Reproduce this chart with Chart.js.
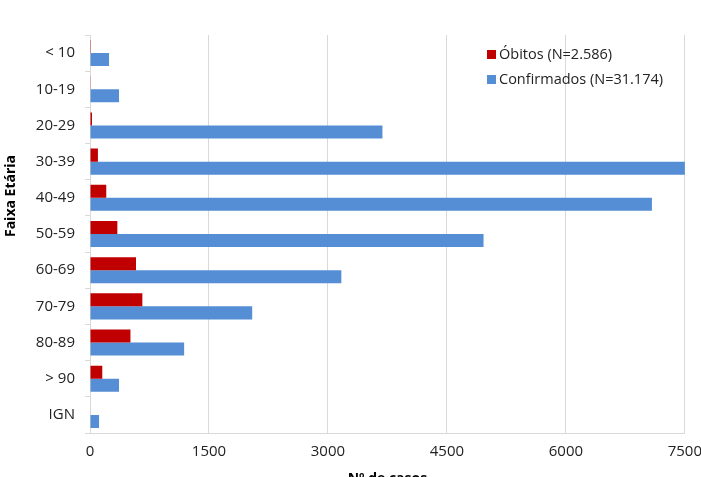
<!DOCTYPE html>
<html>
<head>
<meta charset="utf-8">
<script src="https://cdn.jsdelivr.net/npm/chart.js@4.4.1/dist/chart.umd.min.js"></script>
<style>
  html, body { margin: 0; padding: 0; background: #fff; overflow: hidden; }
  #wrap { position: relative; width: 712px; height: 487px; }
</style>
</head>
<body>
<div id="wrap"><canvas id="grafico"></canvas></div>
<script>
const faixas = ['< 10', '10-19', '20-29', '30-39', '40-49', '50-59', '60-69', '70-79', '80-89', '> 90', 'IGN'];
const obitos = [2, 4, 25, 100, 205, 345, 580, 660, 510, 155, 0];
const confirmados = [240, 366, 3687, 7950, 7085, 4962, 3169, 2045, 1187, 366, 114];
const ticksX = [0, 1500, 3000, 4500, 6000, 7500];

const fonte = "'Open Sans', sans-serif";
const cores = ['#C00000', '#558ED5'];

// legenda dentro da area do grafico + titulo do eixo Y
const extras = {
    id: 'extras',
    afterDraw(chart) {
        const c = chart.ctx;
        c.save();
        c.font = '14.5px ' + fonte;
        c.textBaseline = 'middle';
        chart.data.datasets.forEach((ds, i) => {
            const y = 55 + i * 25;
            c.fillStyle = ds.backgroundColor;
            c.fillRect(487, y - 5, 9, 9);
            c.fillStyle = '#222';
            c.fillText(ds.label, 499, y);
        });
        c.translate(11, 196);
        c.rotate(-Math.PI / 2);
        c.font = 'bold 14px ' + fonte;
        c.textAlign = 'center';
        c.fillStyle = '#000';
        c.fillText('Faixa Etária', 0, 0);
        c.restore();
    }
};

new Chart(document.getElementById('grafico'), {
    type: 'bar',
    data: {
        labels: faixas,
        datasets: [
            {
                label: 'Óbitos (N=2.586)',
                data: obitos,
                backgroundColor: cores[0],
                categoryPercentage: 0.72,
                barPercentage: 1.0
            },
            {
                label: 'Confirmados (N=31.174)',
                data: confirmados,
                backgroundColor: cores[1],
                categoryPercentage: 0.72,
                barPercentage: 1.0
            }
        ]
    },
    options: {
        indexAxis: 'y',
        responsive: true,
        maintainAspectRatio: false,
        animation: false,
        layout: { padding: { top: 35, right: 0, left: 0, bottom: 0 } },
        plugins: {
            legend: { display: false },
            tooltip: { enabled: false }
        },
        scales: {
            x: {
                min: 0,
                max: 7500,
                afterBuildTicks(axis) {
                    axis.ticks = ticksX.map(v => ({ value: v }));
                },
                afterFit(axis) { axis.height = 54; },
                grid: { color: '#d9d9d9', drawTicks: false },
                border: { color: '#d9d9d9' },
                ticks: {
                    color: '#222',
                    font: { family: fonte, size: 15 },
                    padding: 10,
                    callback: v => String(v)
                },
                title: {
                    display: true,
                    text: 'Nº de casos',
                    color: '#000',
                    font: { family: fonte, size: 14, weight: 'bold' },
                    padding: { top: 4, bottom: 0 }
                }
            },
            y: {
                afterFit(axis) { axis.width = 90; },
                grid: { offset: true, drawOnChartArea: false, drawTicks: true, tickLength: 5, color: '#d9d9d9' },
                border: { color: '#d9d9d9' },
                ticks: { color: '#222', font: { family: fonte, size: 15 }, padding: 10 }
            }
        }
    },
    plugins: [extras]
});
</script>
</body>
</html>
